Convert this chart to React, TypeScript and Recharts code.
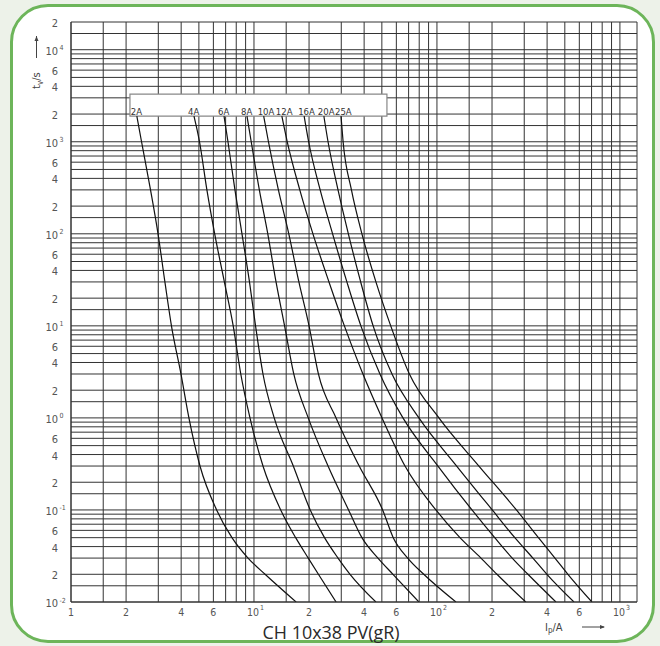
import React from 'react';
import { LineChart, Line, XAxis, YAxis, CartesianGrid, ReferenceArea, ReferenceDot } from 'recharts';

// time points (s) at which each curve's prospective current was read
const TIMES = [1900, 1000, 300, 100, 30, 10, 3, 1, 0.3, 0.1, 0.05, 0.03, 0.02, 0.01];

// prospective current (A) for each fuse rating at the times above
const I_2A = [2.29, 2.43, 2.72, 2.99, 3.26, 3.54, 3.99, 4.41, 5.07, 6.25, 7.58, 9.28, 11.5, 17.0];
const I_4A = [4.7, 5.04, 5.53, 6.1, 6.89, 7.7, 8.47, 9.51, 11.2, 14.0, 16.9, 19.8, 22.5, 28.1];
const I_6A = [6.86, 7.21, 7.87, 8.6, 9.45, 10.2, 11.2, 12.9, 16.4, 20.3, 24.3, 28.8, 33.5, 46.4];
const I_8A = [9.16, 9.66, 10.7, 11.9, 13.2, 14.7, 16.5, 19.8, 25.4, 32.9, 38.9, 47.6, 57.5, 79.7];
const I_10A = [11.3, 12.0, 13.6, 15.5, 17.6, 20.0, 22.5, 28.1, 37.6, 50.5, 57.7, 69.2, 84.7, 127];
const I_12A = [14.2, 15.2, 17.8, 21.0, 25.7, 31.2, 39.4, 50.1, 66.9, 98.7, 133.6, 174, 212.8, 306];
const I_16A = [18.8, 19.9, 23.0, 26.9, 32.2, 38.4, 48.8, 65.2, 101.3, 155.4, 206.9, 257.9, 314.3, 447];
const I_20A = [24.1, 25.4, 28.8, 32.8, 38.3, 44.8, 56.8, 79.7, 128.2, 200.5, 266.5, 334.6, 399.1, 561];
const I_25A = [29.9, 30.7, 34.1, 38.9, 46.4, 55.9, 70.7, 102.5, 169.6, 271.9, 358.6, 441.5, 519.7, 703];

const RATINGS = ['2A', '4A', '6A', '8A', '10A', '12A', '16A', '20A', '25A'];
const CURRENTS = [I_2A, I_4A, I_6A, I_8A, I_10A, I_12A, I_16A, I_20A, I_25A];

// axes / grid
const X_DOMAIN = [1, 1240];
const Y_DOMAIN = [0.01, 20000];
const GRID_MULTS = [1, 1.5, 2, 3, 4, 5, 6, 7, 8, 9];
const X_DECADES = [1, 10, 100];
const Y_DECADES = [0.01, 0.1, 1, 10, 100, 1000];
const LABEL_MULTS = [1, 2, 4, 6];

// label box (current range, time range)
const BOX_I = [2.1, 53.3];
const BOX_T = [1900, 3300];

const clean = (v: number) => Number(v.toPrecision(6));
const X_TICKS = [
  ...X_DECADES.flatMap((d) => GRID_MULTS.map((m) => clean(m * d))),
  1000,
  X_DOMAIN[1],
];
const Y_TICKS = [
  ...Y_DECADES.flatMap((d) => GRID_MULTS.map((m) => clean(m * d))),
  10000,
  15000,
  20000,
];

const FONT = "'DejaVu Sans Condensed', 'DejaVu Sans', sans-serif";
const TICK_COLOR = '#555';

function splitValue(v: number) {
  const e = Math.floor(Math.log10(v) + 1e-9);
  const m = Math.round((v / Math.pow(10, e)) * 10) / 10;
  return { e, m };
}

const XTick = (props: any) => {
  const { x, y, payload } = props;
  const { e, m } = splitValue(payload.value);
  if (!LABEL_MULTS.includes(m)) return <g />;
  const common = { fontFamily: FONT, fontSize: 10.5, fill: TICK_COLOR };
  if (m === 1 && e === 0)
    return (
      <text x={x} y={y + 13.5} textAnchor="middle" {...common}>
        1
      </text>
    );
  if (m === 1)
    return (
      <g>
        <text x={x - 1} y={y + 13.5} textAnchor="middle" {...common}>
          10
        </text>
        <text x={x + 6} y={y + 8} {...common} fontSize={7}>
          {e}
        </text>
      </g>
    );
  return (
    <text x={x} y={y + 13.5} textAnchor="middle" {...common}>
      {m}
    </text>
  );
};

const YTick = (props: any) => {
  const { x, y, payload } = props;
  const { e, m } = splitValue(payload.value);
  if (!LABEL_MULTS.includes(m)) return <g />;
  const right = x - 13;
  const common = { fontFamily: FONT, fontSize: 11, fill: TICK_COLOR };
  if (m === 1)
    return (
      <g>
        <text x={right} y={y + 5} textAnchor="end" {...common}>
          10
        </text>
        <text x={right + 1.5} y={y + 0.5} {...common} fontSize={7}>
          {e}
        </text>
      </g>
    );
  return (
    <text x={right} y={y + 5} textAnchor="end" {...common}>
      {m}
    </text>
  );
};

const seriesData = CURRENTS.map((arr) => arr.map((i, k) => ({ i, t: TIMES[k] })));

export default function App() {
  return (
    <div
      style={{
        position: 'absolute',
        left: 0,
        top: 0,
        width: 660,
        height: 646,
        background: '#edf2e9',
        overflow: 'hidden',
      }}
    >
      <div
        style={{
          position: 'absolute',
          left: 10,
          top: 4,
          width: 645,
          height: 639,
          boxSizing: 'border-box',
          border: '3px solid #6db55a',
          borderRadius: 38,
          background: '#ffffff',
        }}
      />
      <div style={{ position: 'absolute', left: 0, top: 0 }}>
        <LineChart width={660} height={646} margin={{ top: 22, right: 23, left: 11, bottom: 14 }}>
          <CartesianGrid stroke="#333" strokeWidth={1} />
          <XAxis
            dataKey="i"
            type="number"
            scale="log"
            domain={X_DOMAIN}
            ticks={X_TICKS}
            interval={0}
            allowDataOverflow
            height={30}
            tickLine={false}
            tickSize={0}
            tickMargin={0}
            axisLine={{ stroke: '#333' }}
            tick={<XTick />}
          />
          <YAxis
            dataKey="t"
            type="number"
            scale="log"
            domain={Y_DOMAIN}
            ticks={Y_TICKS}
            interval={0}
            allowDataOverflow
            width={60}
            tickLine={false}
            tickSize={0}
            tickMargin={0}
            axisLine={{ stroke: '#333' }}
            tick={<YTick />}
          />
          <ReferenceArea
            x1={BOX_I[0]}
            x2={BOX_I[1]}
            y1={BOX_T[0]}
            y2={BOX_T[1]}
            fill="#ffffff"
            fillOpacity={1}
            stroke="#888"
            strokeWidth={1.2}
            zIndex={150}
          />
          {seriesData.map((d, k) => (
            <Line
              key={RATINGS[k]}
              data={d}
              dataKey="t"
              type="monotone"
              stroke="#111"
              strokeWidth={1.2}
              dot={false}
              activeDot={false}
              isAnimationActive={false}
            />
          ))}
          {RATINGS.map((name, k) => (
            <ReferenceDot
              key={'lbl' + name}
              x={CURRENTS[k][0]}
              y={TIMES[0]}
              r={1}
              shape={(p: any) => (
                <text
                  x={p.cx - 6}
                  y={p.cy - 1.5}
                  fontFamily={FONT}
                  fontSize={9.5}
                  fill="#333"
                >
                  {name}
                </text>
              )}
            />
          ))}
        </LineChart>
      </div>
      <svg
        width={660}
        height={646}
        style={{ position: 'absolute', left: 0, top: 0, pointerEvents: 'none' }}
      >
        <g transform="translate(40,89) rotate(-90)">
          <text x={0} y={0} fontFamily={FONT} fontSize={11} fill="#444">
            t
            <tspan fontSize={8} dy={3}>
              v
            </tspan>
            <tspan dy={-3}>/s</tspan>
          </text>
          <line x1={31} y1={-3.5} x2={53} y2={-3.5} stroke="#444" strokeWidth={1} />
          <path d="M53,-3.5 L48,-5.5 L48,-1.5 Z" fill="#444" />
        </g>
        <text x={545} y={631} fontFamily={FONT} fontSize={11} fill="#444">
          I
          <tspan fontSize={8} dy={2}>
            p
          </tspan>
          <tspan dy={-2}>/A</tspan>
        </text>
        <line x1={582} y1={627} x2={604} y2={627} stroke="#444" strokeWidth={1} />
        <path d="M605,627 L600,625 L600,629 Z" fill="#444" />
        <text
          x={331}
          y={639}
          textAnchor="middle"
          fontFamily="'Liberation Sans Narrow', 'Open Sans', 'Noto Sans', sans-serif"
          fontSize={18.5}
          fill="#2a2a2a"
          textLength={137}
          lengthAdjust="spacingAndGlyphs"
        >
          CH 10x38 PV(gR)
        </text>
      </svg>
    </div>
  );
}
